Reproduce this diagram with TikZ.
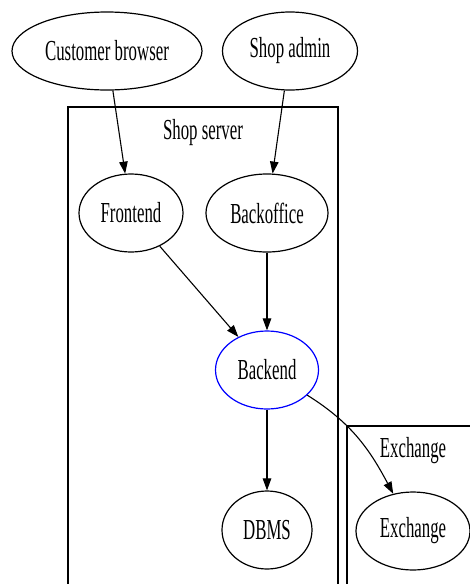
\documentclass[tikz,border=0pt]{standalone}
\usepackage{fontspec}
\setmainfont[FakeStretch=0.58]{Liberation Serif}
\usetikzlibrary{arrows.meta}
\usetikzlibrary{shapes.geometric}

\begin{document}
\begin{tikzpicture}[x=1pt,y=-1pt,
  every node/.style={font=\fontsize{29}{30}\selectfont},
  gvnode/.style={draw,ellipse,line width=1.2pt,inner sep=0pt,minimum height=78pt},
  gvedge/.style={line width=1.1pt,-{Triangle[length=12pt,width=8.5pt]}},
  cluster/.style={draw,line width=1.2pt}]
 \clip (0,0) rectangle (470,584);
 % clusters
 \draw[cluster] (68,107) rectangle (338,600);
 \node (shoplbl) at (203,133) {Shop server};
 \draw[cluster] (347,426) rectangle (480,600);
 \node (exchlbl) at (413,451) {Exchange};
 % nodes
 \node[gvnode,minimum width=190pt] (cbrowser) at (107,51) {Customer browser};
 \node[gvnode,minimum width=135pt] (shopadmin) at (290,51) {Shop admin};
 \node[gvnode,minimum width=104pt] (frontend) at (131,213) {Frontend};
 \node[gvnode,minimum width=122pt] (backoffice) at (267,213) {Backoffice};
 \node[gvnode,minimum width=103pt,draw=blue] (backend) at (267,370) {Backend};
 \node[gvnode,minimum width=90pt] (dbms) at (267,530) {DBMS};
 \node[gvnode,minimum width=114pt] (exchange) at (413,531) {Exchange};
 % edges
 \draw[gvedge] (cbrowser) -- (frontend);
 \draw[gvedge] (shopadmin) -- (backoffice);
 \draw[gvedge] (frontend) -- (backend);
 \draw[gvedge] (backoffice) -- (backend);
 \draw[gvedge] (backend) -- (dbms);
 \draw[gvedge] (backend) to[out=-32,in=118] (exchange);
\end{tikzpicture}
\end{document}
